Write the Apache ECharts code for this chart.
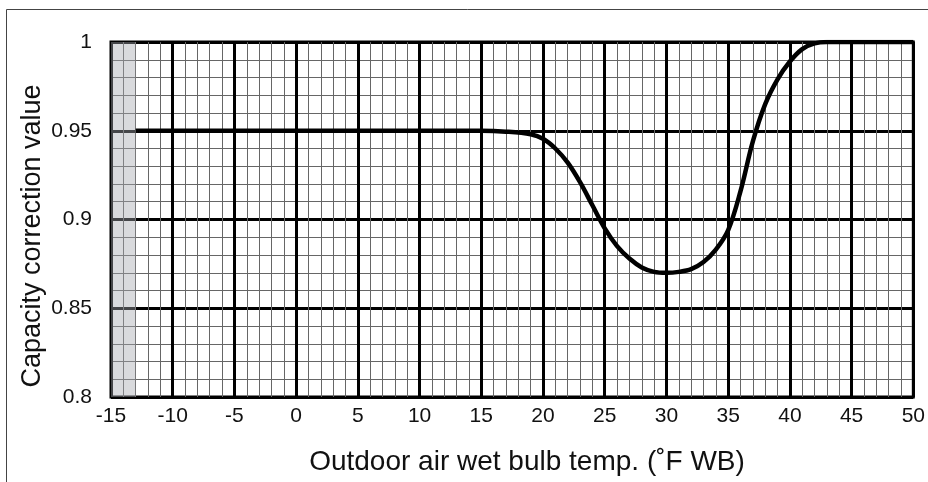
<!DOCTYPE html>
<html>
<head>
<meta charset="utf-8">
<script src="https://cdn.jsdelivr.net/npm/echarts@6/dist/echarts.min.js"></script>
<style>
  html, body { margin: 0; padding: 0; background: #fff; }
  #chart { width: 928px; height: 482px; }
</style>
</head>
<body>
<div id="chart"></div>
<script>
// wet bulb temp (°F WB) and capacity correction value
var tempWB = [-13, 0, 10, 15, 17, 19, 20, 21, 22, 23, 24, 25, 26, 27, 28, 29, 30, 31, 32, 33, 34, 35, 36, 37, 38, 39, 40, 41, 42, 43, 46, 50];
var correction = [0.95, 0.95, 0.95, 0.95, 0.9495, 0.948, 0.9455, 0.94, 0.932, 0.921, 0.908, 0.895, 0.885, 0.878, 0.873, 0.8705, 0.87, 0.8705, 0.872, 0.876, 0.883, 0.894, 0.916, 0.944, 0.965, 0.979, 0.989, 0.996, 0.9992, 1.0, 1.0, 1.0];
// shaded band on the left
var bandFrom = -15;
var bandTo = -13;

var points = tempWB.map(function (t, i) { return [t, correction[i]]; });
var font = "'Liberation Sans', Arial, sans-serif";

var chart = echarts.init(document.getElementById("chart"));
chart.setOption({
  animation: false,
  grid: {
    left: 111,
    right: 11,
    top: 42,
    bottom: 85,
    show: true,
    borderColor: "#000",
    borderWidth: 3,
  },
  graphic: [
    {
      type: "rect",
      silent: true,
      shape: { x: 6.5, y: 9.5, width: 940, height: 520 },
      style: { fill: null, stroke: "#444", lineWidth: 1 },
    },
    {
      type: "text",
      x: 527,
      y: 462,
      style: {
        text: "Outdoor air wet bulb temp. (˚F WB)",
        font: "28px " + font,
        fill: "#111",
        align: "center",
        verticalAlign: "middle",
      },
    },
    {
      type: "text",
      x: 33,
      y: 236,
      rotation: Math.PI / 2,
      style: {
        text: "Capacity correction value",
        font: "27px " + font,
        fill: "#111",
        align: "center",
        verticalAlign: "middle",
      },
    },
  ],
  xAxis: {
    type: "value",
    min: -15,
    max: 50,
    interval: 5,
    axisLine: { show: false },
    axisTick: { show: false },
    minorTick: { show: true, splitNumber: 5, length: 0 },
    axisLabel: { margin: 9, color: "#111", fontSize: 21, fontFamily: font },
    splitLine: { show: true, lineStyle: { color: "#000", width: 3 } },
    minorSplitLine: { show: true, lineStyle: { color: "#666", width: 1 } },
  },
  yAxis: {
    type: "value",
    min: 0.8,
    max: 1,
    interval: 0.05,
    axisLine: { show: false },
    axisTick: { show: false },
    minorTick: { show: true, splitNumber: 5, length: 0 },
    axisLabel: { margin: 19, color: "#111", fontSize: 21, fontFamily: font },
    splitLine: { show: true, lineStyle: { color: "#000", width: 3 } },
    minorSplitLine: { show: true, lineStyle: { color: "#666", width: 1 } },
  },
  series: [
    {
      type: "line",
      data: points,
      smooth: 0.35,
      showSymbol: false,
      lineStyle: { color: "#000", width: 4.5 },
      markArea: {
        silent: true,
        itemStyle: { color: "rgba(165,168,175,0.42)" },
        data: [[{ xAxis: bandFrom }, { xAxis: bandTo }]],
      },
    },
  ],
});
</script>
</body>
</html>
